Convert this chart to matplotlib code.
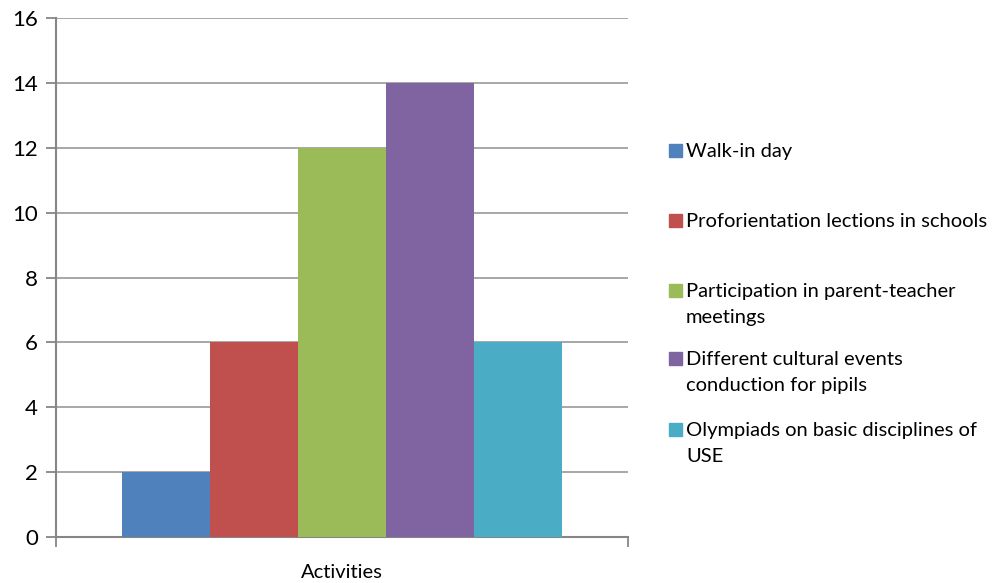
import matplotlib.pyplot as plt
from matplotlib.patches import Rectangle

plt.rcParams['font.family'] = ['Lato', 'DejaVu Sans']

# data
activities = ["Walk-in day",
              "Proforientation lections in schools",
              "Participation in parent-teacher\nmeetings",
              "Different cultural events\nconduction for pipils",
              "Olympiads on basic disciplines of\nUSE"]
values = [2, 6, 12, 14, 6]
colors = ["#4F81BD", "#C0504D", "#9BBB59", "#8064A2", "#4BACC6"]
category = "Activities"
yticks = [0, 2, 4, 6, 8, 10, 12, 14, 16]

W, H = 992, 583
fig = plt.figure(figsize=(W / 100, H / 100), dpi=100)
ax = fig.add_axes([56 / W, 1 - 537 / H, (628 - 56) / W, (537 - 18) / H])

positions = list(range(len(values)))
ax.bar(positions, values, width=1.0, color=colors, zorder=3)

ax.set_ylim(0, 16)
ax.set_xlim(-1.25, len(values) + 0.25)
ax.set_yticks(yticks)
ax.yaxis.grid(True, color="#a0a0a0", linewidth=1.3, zorder=0)
ax.tick_params(axis="y", length=7, width=1.3, color="#868686", labelsize=16, pad=6)

# category label under the group, edge tick marks on x axis
ax.set_xticks([-1.25, len(values) + 0.25])
ax.set_xticklabels(["", ""])
ax.tick_params(axis="x", length=7, width=1.3, color="#868686")
fig.text(342 / W, 1 - 573 / H, category, ha="center", va="center", fontsize=14.5)

for side in ["top", "right"]:
    ax.spines[side].set_visible(False)
for side in ["left", "bottom"]:
    ax.spines[side].set_color("#868686")
    ax.spines[side].set_linewidth(1.5)

# legend, drawn by hand to mimic Excel layout
baselines = [157, 227, 297, 365, 436]
line_gap = 26.5
for label, color, base in zip(activities, colors, baselines):
    fig.patches.append(Rectangle((669 / W, 1 - base / H), 13 / W, 13 / H,
                                 transform=fig.transFigure, color=color))
    for i, line in enumerate(label.split("\n")):
        fig.text(686 / W, 1 - (base + i * line_gap) / H, line,
                 ha="left", va="baseline", fontsize=14.5)

fig.savefig("out.png", dpi=100)
